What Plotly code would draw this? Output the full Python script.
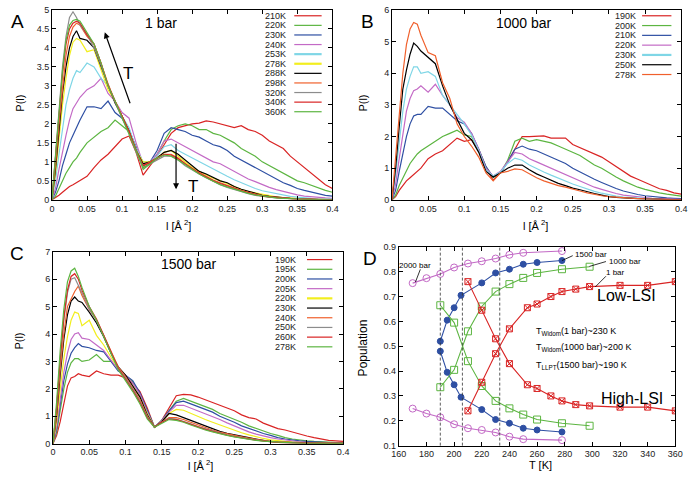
import plotly.graph_objects as go

W, H = 697, 480
FONT = "Liberation Sans"

# ---------------- data ----------------
L = [0, 0.005, 0.01, 0.015, 0.02, 0.025, 0.03, 0.035, 0.04,
     0.05, 0.06, 0.07, 0.08, 0.09, 0.10,
     0.11, 0.12, 0.13, 0.14, 0.15, 0.16, 0.17, 0.18, 0.19, 0.20,
     0.21, 0.22, 0.23, 0.24, 0.25, 0.26, 0.27, 0.28, 0.29, 0.30,
     0.31, 0.32, 0.33, 0.34, 0.35, 0.36, 0.37, 0.38, 0.39, 0.40]

# Panel A: 1 bar
a_labels = ["210K", "220K", "230K", "240K", "253K", "278K", "288K", "298K", "320K", "340K", "360K"]
a210 = [0,0.05,0.12,0.2,0.28,0.35,0.4,0.45,0.5, 0.62,0.85,1.05,1.2,1.4,1.6, 1.68,1.25,0.65,0.9,1.15,1.45,1.75,1.9,1.95,2.0, 2.02,2.08,2.05,2.0,1.95,1.9,1.95,1.85,1.8,1.7, 1.55,1.45,1.35,1.15,1.0,0.85,0.7,0.55,0.4,0.3]
a220 = [0,0.1,0.3,0.5,0.7,0.85,1.0,1.1,1.25, 1.5,1.65,1.8,1.9,2.1,1.95, 1.8,1.4,0.8,0.95,1.2,1.55,1.85,1.95,2.0,1.95, 1.85,1.85,1.75,1.7,1.6,1.5,1.35,1.25,1.15,1.0, 0.9,0.8,0.7,0.6,0.5,0.45,0.38,0.3,0.25,0.2]
a230 = [0,0.2,0.5,0.9,1.2,1.5,1.7,1.9,2.1, 2.45,2.45,2.4,2.6,2.3,2.15, 1.85,1.4,0.9,1.0,1.3,1.75,1.9,1.85,1.8,1.7, 1.65,1.55,1.45,1.4,1.3,1.15,1.05,0.95,0.85,0.75, 0.65,0.55,0.45,0.38,0.3,0.25,0.2,0.15,0.12,0.1]
a240 = [0,0.3,0.8,1.3,1.7,2.1,2.4,2.55,2.7, 2.9,3.0,3.2,2.8,2.6,2.3, 2.15,1.5,0.95,1.0,1.2,1.55,1.6,1.5,1.4,1.3, 1.2,1.1,1.0,0.95,0.85,0.75,0.65,0.55,0.48,0.4, 0.33,0.27,0.22,0.17,0.13,0.1,0.08,0.06,0.05,0.04]
a253 = [0,0.5,1.2,1.9,2.5,2.9,3.2,3.4,3.35, 3.6,3.5,3.2,3.0,2.6,2.2, 1.9,1.35,1.0,1.0,1.15,1.4,1.45,1.3,1.2,1.1, 1.0,0.9,0.8,0.72,0.62,0.53,0.45,0.37,0.3,0.24, 0.2,0.15,0.12,0.09,0.07,0.05,0.04,0.03,0.02,0.02]
a278 = [0,0.7,1.6,2.5,3.2,3.8,4.15,4.25,4.2, 3.9,3.95,3.4,2.9,2.6,2.2, 1.8,1.3,1.0,1.0,1.1,1.25,1.3,1.15,1.0,0.85, 0.75,0.65,0.57,0.5,0.42,0.35,0.28,0.22,0.18,0.14, 0.1,0.08,0.06,0.04,0.03,0.02,0.02,0.01,0.01,0.01]
a288 = [0,0.8,1.8,2.8,3.5,4.0,4.3,4.45,4.25, 4.2,4.0,3.5,3.0,2.55,2.2, 1.8,1.3,0.95,1.0,1.1,1.25,1.3,1.2,1.05,0.9, 0.75,0.68,0.58,0.5,0.45,0.35,0.28,0.22,0.17,0.12, 0.09,0.07,0.05,0.04,0.03,0.02,0.02,0.01,0.01,0.01]
a298 = [0,0.9,2.0,3.0,3.8,4.3,4.55,4.65,4.6, 4.3,4.1,3.6,3.05,2.6,2.2, 1.8,1.3,0.9,1.0,1.1,1.2,1.2,1.1,0.95,0.82, 0.72,0.62,0.52,0.45,0.38,0.3,0.25,0.2,0.15,0.11, 0.08,0.06,0.05,0.04,0.03,0.02,0.02,0.01,0.01,0.01]
a320 = [0,1.2,2.4,3.5,4.3,4.8,4.95,4.8,4.6, 4.35,4.0,3.55,3.0,2.55,2.15, 1.75,1.25,0.85,0.95,1.05,1.15,1.15,1.05,0.9,0.78, 0.68,0.58,0.48,0.4,0.33,0.27,0.21,0.16,0.12,0.09, 0.07,0.05,0.04,0.03,0.02,0.02,0.01,0.01,0.01,0.0]
a340 = [0,1.0,2.2,3.3,4.1,4.5,4.65,4.7,4.65, 4.35,4.1,3.6,3.0,2.6,2.2, 1.8,1.3,0.9,0.98,1.1,1.2,1.18,1.08,0.95,0.82, 0.7,0.6,0.5,0.43,0.36,0.3,0.24,0.19,0.14,0.1, 0.08,0.06,0.04,0.03,0.02,0.02,0.01,0.01,0.01,0.01]
a360 = [0,1.1,2.3,3.4,4.2,4.6,4.72,4.75,4.7, 4.4,4.1,3.6,3.0,2.6,2.15, 1.75,1.25,0.85,0.95,1.1,1.18,1.15,1.05,0.92,0.8, 0.68,0.58,0.48,0.4,0.34,0.28,0.22,0.17,0.13,0.1, 0.07,0.05,0.04,0.03,0.02,0.02,0.01,0.01,0.01,0.0]

# Panel B: 1000 bar
b_labels = ["190K", "200K", "210K", "220K", "230K", "250K", "278K"]
b190 = [0,0.1,0.3,0.45,0.6,0.7,0.8,0.9,1.0, 1.3,1.45,1.55,1.75,1.95,1.85, 1.9,1.55,1.0,0.62,0.85,1.2,1.6,2.0,2.0,2.0, 2.02,1.95,1.95,1.95,1.75,1.65,1.55,1.45,1.35,1.2, 1.05,0.9,0.75,0.65,0.55,0.45,0.35,0.3,0.22,0.18]
b200 = [0,0.15,0.45,0.7,0.95,1.15,1.3,1.45,1.55, 1.7,1.85,2.0,2.1,2.2,2.05, 2.0,1.6,1.05,0.7,0.85,1.25,1.85,1.95,1.85,1.9, 1.85,1.8,1.7,1.6,1.5,1.4,1.25,1.1,1.0,0.85, 0.72,0.6,0.5,0.4,0.33,0.27,0.22,0.18,0.14,0.12]
b210 = [0,0.3,0.9,1.5,2.0,2.4,2.65,2.7,2.7, 2.95,2.9,2.9,2.7,2.5,2.4, 2.1,1.6,1.05,0.72,0.85,1.2,1.6,1.7,1.6,1.55, 1.45,1.35,1.25,1.15,1.0,0.88,0.75,0.65,0.55,0.45, 0.36,0.28,0.22,0.17,0.13,0.1,0.08,0.06,0.05,0.04]
b220 = [0,0.5,1.3,2.1,2.8,3.2,3.45,3.5,3.6, 3.4,3.65,3.3,3.0,2.6,2.45, 2.1,1.6,1.0,0.75,0.9,1.2,1.5,1.45,1.3,1.2, 1.1,1.0,0.92,0.82,0.7,0.6,0.5,0.4,0.33,0.26, 0.2,0.15,0.12,0.09,0.07,0.05,0.04,0.03,0.02,0.02]
b230 = [0,0.8,1.8,2.8,3.5,3.9,4.2,4.2,4.0, 4.05,3.9,3.3,3.0,2.7,2.4, 2.05,1.55,0.95,0.75,0.88,1.15,1.32,1.25,1.1,0.98, 0.88,0.78,0.68,0.6,0.5,0.42,0.34,0.27,0.21,0.16, 0.12,0.09,0.07,0.05,0.04,0.03,0.02,0.02,0.01,0.01]
b250 = [0,1.0,2.3,3.5,4.1,4.6,4.95,4.85,4.7, 4.5,4.3,3.6,3.0,2.55,2.1, 1.9,1.5,0.9,0.72,0.85,1.0,1.1,1.1,0.95,0.82, 0.72,0.62,0.52,0.45,0.37,0.32,0.25,0.2,0.15,0.1, 0.08,0.06,0.05,0.04,0.03,0.02,0.02,0.01,0.01,0.01]
b278 = [0,1.3,2.8,4.0,4.9,5.4,5.6,5.55,5.2, 4.65,4.55,3.7,3.2,2.4,2.0, 1.7,1.35,0.85,0.6,0.85,0.9,0.98,0.95,0.82,0.7, 0.6,0.52,0.45,0.4,0.33,0.28,0.22,0.17,0.13,0.1, 0.08,0.06,0.05,0.04,0.03,0.02,0.02,0.01,0.01,0.01]

# Panel C: 1500 bar
c_labels = ["190K", "195K", "200K", "205K", "220K", "230K", "240K", "250K", "260K", "278K"]
c190 = [0,0.3,0.8,1.5,2.1,2.4,2.45,2.55,2.5, 2.45,2.65,2.55,2.5,2.5,2.4, 2.2,1.9,1.3,0.6,0.85,1.3,1.75,1.8,1.78,1.7, 1.6,1.5,1.4,1.3,1.2,1.05,0.95,0.9,0.75,0.65, 0.55,0.5,0.42,0.35,0.28,0.22,0.17,0.12,0.1,0.08]
c195 = [0,0.4,1.2,2.0,2.6,2.95,3.1,3.1,3.0, 3.05,3.25,3.0,3.0,2.7,2.5, 2.25,1.8,1.2,0.6,0.85,1.2,1.55,1.65,1.55,1.45, 1.35,1.25,1.1,1.0,0.9,0.78,0.65,0.55,0.45,0.37, 0.3,0.22,0.17,0.13,0.1,0.08,0.06,0.05,0.04,0.03]
c200 = [0,0.5,1.4,2.3,2.9,3.3,3.5,3.65,3.55, 3.5,3.4,3.35,3.0,2.65,2.5, 2.3,1.85,1.2,0.6,0.85,1.2,1.5,1.55,1.45,1.35, 1.25,1.15,1.0,0.9,0.78,0.65,0.55,0.45,0.37,0.3, 0.22,0.17,0.13,0.1,0.08,0.06,0.05,0.04,0.03,0.02]
c205 = [0,0.6,1.6,2.6,3.3,3.8,4.0,4.05,3.85, 3.8,3.6,3.4,3.05,2.7,2.5, 2.2,1.8,1.15,0.6,0.85,1.15,1.4,1.4,1.3,1.2, 1.1,1.0,0.88,0.76,0.65,0.53,0.43,0.35,0.28,0.22, 0.17,0.13,0.1,0.07,0.05,0.04,0.03,0.02,0.02,0.01]
c220 = [0,0.8,2.0,3.1,3.9,4.5,4.8,4.75,4.3, 4.5,3.95,3.6,3.15,2.75,2.45, 2.1,1.7,1.1,0.6,0.8,1.1,1.25,1.22,1.1,0.98, 0.88,0.78,0.68,0.58,0.48,0.4,0.32,0.25,0.19,0.14, 0.1,0.08,0.06,0.04,0.03,0.02,0.02,0.01,0.01,0.01]
c230 = [0,1.0,2.5,3.8,4.7,5.2,5.35,5.2,5.15, 4.8,4.4,3.9,3.3,2.8,2.5, 2.1,1.7,1.05,0.6,0.8,1.1,1.05,0.95,0.85,0.75, 0.65,0.55,0.45,0.38,0.32,0.27,0.22,0.17,0.12,0.08, 0.06,0.05,0.04,0.03,0.02,0.02,0.01,0.01,0.01,0.01]
c240 = [0,1.1,2.7,4.0,5.0,5.3,5.55,5.75,5.4, 4.9,4.5,3.95,3.35,2.8,2.45, 2.0,1.6,1.0,0.6,0.78,0.95,0.95,0.88,0.78,0.68, 0.58,0.5,0.42,0.35,0.3,0.25,0.2,0.15,0.11,0.08, 0.06,0.05,0.04,0.03,0.02,0.02,0.01,0.01,0.01,0.01]
c250 = [0,1.3,3.0,4.5,5.5,6.0,6.05,5.8,5.5, 4.9,4.5,3.95,3.3,2.75,2.4, 2.0,1.55,1.0,0.6,0.78,0.92,0.9,0.82,0.72,0.62, 0.54,0.46,0.38,0.32,0.27,0.22,0.18,0.14,0.1,0.07, 0.05,0.04,0.03,0.02,0.02,0.01,0.01,0.01,0.0,0.0]
c260 = [0,1.3,3.1,4.6,5.6,6.1,6.2,6.0,5.6, 5.0,4.55,3.95,3.3,2.75,2.35, 1.95,1.5,0.95,0.6,0.78,0.9,0.88,0.8,0.7,0.6, 0.52,0.45,0.37,0.31,0.26,0.21,0.17,0.13,0.1,0.07, 0.05,0.04,0.03,0.02,0.02,0.01,0.01,0.01,0.0,0.0]
c278 = [0,1.5,3.4,4.9,5.9,6.3,6.4,6.1,5.7, 5.0,4.5,3.9,3.25,2.7,2.3, 1.9,1.45,0.9,0.6,0.75,0.88,0.85,0.78,0.68,0.58, 0.5,0.43,0.36,0.3,0.25,0.2,0.16,0.12,0.09,0.07, 0.05,0.04,0.03,0.02,0.02,0.01,0.01,0.01,0.0,0.0]

# Panel D: populations
T2000 = [170, 180, 190, 200, 210, 220, 230, 240, 250, 278]
P2000_low = [0.754, 0.774, 0.791, 0.817, 0.833, 0.842, 0.853, 0.868, 0.876, 0.883]
P2000_high = [0.249, 0.229, 0.214, 0.186, 0.170, 0.163, 0.153, 0.136, 0.126, 0.122]
T1500 = [190, 195, 200, 205, 220, 230, 240, 250, 260, 278]
P1500_low = [0.52, 0.605, 0.655, 0.705, 0.755, 0.795, 0.81, 0.83, 0.837, 0.845]
P1500_high = [0.48, 0.395, 0.345, 0.295, 0.245, 0.205, 0.19, 0.17, 0.163, 0.155]
T1000 = [190, 200, 210, 220, 230, 240, 250, 260, 278, 298]
P1000_low = [0.335, 0.405, 0.56, 0.66, 0.72, 0.75, 0.775, 0.795, 0.81, 0.82]
P1000_high = [0.665, 0.595, 0.44, 0.34, 0.28, 0.25, 0.225, 0.205, 0.19, 0.18]
T1 = [210, 220, 230, 240, 253, 260, 270, 278, 288, 298, 320, 340, 360]
P1_low = [0.24, 0.355, 0.47, 0.57, 0.655, 0.67, 0.70, 0.72, 0.73, 0.74, 0.745, 0.745, 0.76]
P1_high = [0.76, 0.645, 0.53, 0.43, 0.345, 0.33, 0.30, 0.28, 0.265, 0.26, 0.255, 0.255, 0.24]
T_widom = [190, 206, 233]

# ---------------- styles ----------------
RED = "#d92424"; GREEN = "#5cb541"; BLUE = "#2e4fa3"; MAG = "#c36ac6"
CYAN = "#7fd6e6"; YEL = "#f2ee1e"; BLK = "#000000"; ORG = "#f0602c"; GRY = "#8c8c8c"

a_cols = [RED, GREEN, BLUE, MAG, CYAN, YEL, BLK, ORG, GRY, RED, GREEN]
b_cols = [RED, GREEN, BLUE, MAG, CYAN, BLK, ORG]
c_cols = [RED, GREEN, BLUE, MAG, YEL, BLK, ORG, GRY, RED, GREEN]

def px(x): return x / W
def py(y): return 1 - y / H

fig = go.Figure()

panels = [
    ("x", "y", a_labels, [a210, a220, a230, a240, a253, a278, a288, a298, a320, a340, a360], a_cols),
    ("x2", "y2", b_labels, [b190, b200, b210, b220, b230, b250, b278], b_cols),
    ("x3", "y3", c_labels, [c190, c195, c200, c205, c220, c230, c240, c250, c260, c278], c_cols),
]
for xa, ya, labs, ser, cols in panels:
    for lab, s, c in zip(labs, ser, cols):
        fig.add_trace(go.Scatter(x=L, y=s, mode="lines", name=lab, xaxis=xa, yaxis=ya,
                                 line=dict(color=c, width=1.2), showlegend=False))

# Panel D traces
def dtrace(T, P, col, sym, size):
    fig.add_trace(go.Scatter(x=T, y=P, mode="lines+markers", xaxis="x4", yaxis="y4",
                             line=dict(color=col, width=1.1), showlegend=False,
                             marker=dict(symbol=sym, size=size, color=col,
                                         line=dict(color=col, width=1))))
dtrace(T2000, P2000_low, MAG, "circle-open", 7)
dtrace(T2000, P2000_high, MAG, "circle-open", 7)
dtrace(T1500, P1500_low, BLUE, "circle", 6)
dtrace(T1500, P1500_high, BLUE, "circle", 6)
dtrace(T1000, P1000_low, GREEN, "square-open", 7)
dtrace(T1000, P1000_high, GREEN, "square-open", 7)
dtrace(T1, P1_low, RED, "square-x-open", 6)
dtrace(T1, P1_high, RED, "square-x-open", 6)

for t in T_widom:
    fig.add_shape(type="line", xref="x4", yref="y4 domain", x0=t, x1=t, y0=0, y1=1,
                  line=dict(color="#333", width=0.8, dash="3px,2px"))

# ---------------- axes ----------------
def ax(domain, rng, dtick, anchor):
    return dict(domain=domain, range=rng, dtick=dtick, anchor=anchor, showgrid=False,
                zeroline=False, showline=True, linecolor="black", linewidth=1,
                mirror="ticks", ticks="inside", ticklen=4, tickcolor="black",
                tickfont=dict(family=FONT, size=9, color="#222"))

yA = [py(199), py(5)]
yC = [py(448), py(252)]
yD = [py(450), py(247)]
fig.update_layout(
    width=W, height=H, margin=dict(l=0, r=0, t=0, b=0),
    paper_bgcolor="white", plot_bgcolor="white",
    xaxis=ax([px(45), px(332)], [0, 0.4], 0.05, "y"),
    yaxis=ax(yA, [0, 5], 0.5, "x"),
    xaxis2=ax([px(393), px(689)], [0, 0.4], 0.05, "y2"),
    yaxis2=ax(yA, [0, 6], 1, "x2"),
    xaxis3=ax([px(46), px(343)], [0, 0.4], 0.05, "y3"),
    yaxis3=ax(yC, [0, 7], 1, "x3"),
    xaxis4=ax([px(400), px(683)], [160, 360], 20, "y4"),
    yaxis4=ax(yD, [0.1, 0.9], 0.1, "x4"),
    font=dict(family=FONT),
)

ann = []
def text(x, y, s, size, xanchor="center", angle=0, color="black"):
    ann.append(dict(x=px(x), y=py(y), xref="paper", yref="paper", text=s, showarrow=False,
                    xanchor=xanchor, yanchor="middle", textangle=angle,
                    font=dict(family=FONT, size=size, color=color)))

# panel letters
text(10, 17, "A", 19); text(368, 17, "B", 19); text(9, 254, "C", 19); text(370, 259, "D", 19)
# titles
text(157, 18, "1 bar", 14); text(528, 18, "1000 bar", 14); text(185, 265, "1500 bar", 14)
# axis titles
for xx, yy in [(12, 100), (363, 100), (11, 343)]:
    text(xx, yy, "P(l)", 11, angle=-90)
text(363, 350, "Population", 12, angle=-90)
text(175, 225, "l [Å<sup> 2</sup>]", 11); text(540, 225, "l [Å<sup> 2</sup>]", 11)
text(197, 470, "l [Å<sup> 2</sup>]", 11); text(545, 470, "T [K]", 11)

# legends
def legend(labels, cols, x_text, x0, x1, y0, dy):
    for i, (lab, c) in enumerate(zip(labels, cols)):
        yy = y0 + i * dy
        text(x_text, yy, lab, 9, xanchor="right", color="#222")
        wdt = 2.2 if c in (CYAN, YEL) else 1.2
        fig.add_shape(type="line", xref="paper", yref="paper", x0=px(x0), x1=px(x1),
                      y0=py(yy), y1=py(yy), line=dict(color=c, width=wdt))
legend(a_labels, a_cols, 287, 293, 321, 11, 9.8)
legend(b_labels, b_cols, 645, 649, 679, 11, 10)
legend(c_labels, c_cols, 297, 306, 332, 260, 9.9)

# arrows in A
ann.append(dict(x=0.0753, y=4.41, ax=0.1157, ay=2.32, xref="x", yref="y", axref="x", ayref="y",
                showarrow=True, arrowhead=2, arrowsize=1, arrowwidth=1.2, arrowcolor="black", text=" "))
ann.append(dict(x=0.177, y=0.28, ax=0.177, ay=1.70, xref="x", yref="y", axref="x", ayref="y",
                showarrow=True, arrowhead=2, arrowsize=1, arrowwidth=1.2, arrowcolor="black", text=" "))
text(123, 70, "T", 17); text(189, 185, "T", 17)

# panel D annotations
text(417, 266, "2000 bar", 8); text(597, 255, "1500 bar", 8)
text(631, 262, "1000 bar", 8); text(622, 273, "1 bar", 8)
for (x0, y0, x1, y1) in [(422, 270, 417, 283), (567, 261, 578, 256), (595, 267, 612, 262), (601, 288, 612, 277)]:
    fig.add_shape(type="line", xref="paper", yref="paper", x0=px(x0), y0=py(y0), x1=px(x1), y1=py(y1),
                  line=dict(color="black", width=0.8))
text(633, 297, "Low-LSI", 16); text(639, 402, "High-LSI", 16)
text(538, 333, "T<sub>Widom</sub>(1 bar)~230 K", 9, xanchor="left")
text(538, 350, "T<sub>Widom</sub>(1000 bar)~200 K", 9, xanchor="left")
text(538, 368, "T<sub>LLPT</sub>(1500 bar)~190 K", 9, xanchor="left")

fig.update_layout(annotations=ann)
fig.write_html("out.html", config={"displayModeBar": False},
               post_script="document.body.style.margin='0';document.body.style.overflow='hidden';")
